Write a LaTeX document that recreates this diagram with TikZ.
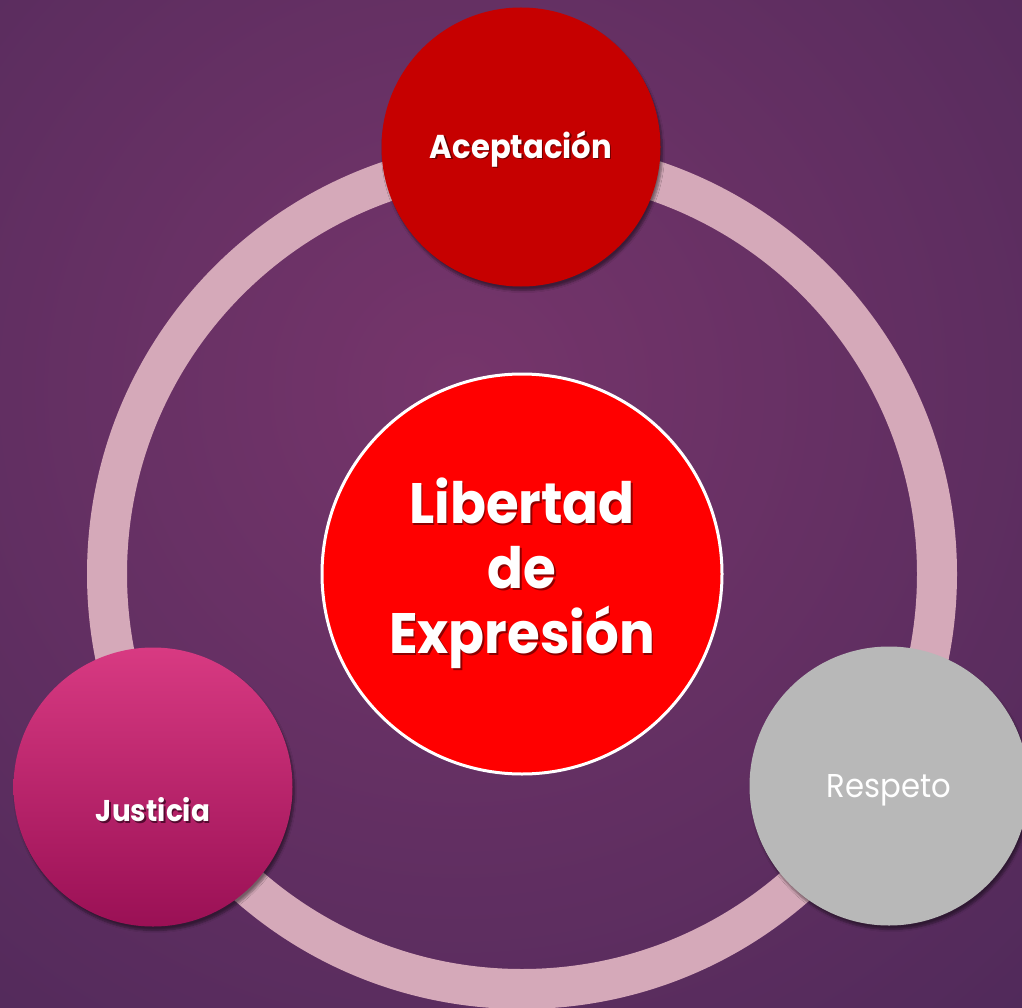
\documentclass[tikz,border=0pt]{standalone}
\usepackage{fontspec}
\setmainfont[FakeStretch=0.93]{Poppins}
\usetikzlibrary{shadows.blur}
\definecolor{bgin}{HTML}{76356B}
\definecolor{bgout}{HTML}{3A2350}
\definecolor{ringc}{HTML}{D5A9B9}
\definecolor{acep}{HTML}{C60000}
\definecolor{justop}{HTML}{D83A82}
\definecolor{jusbot}{HTML}{9A1055}
\definecolor{resp}{HTML}{B8B8B8}
% white text with a small dark copy behind it
\newcommand{\shtxt}[2]{\makebox[0pt][l]{\hspace{1.5pt}\raisebox{-1.5pt}{\textcolor{#1}{#2}}}#2}
% text put with its baseline #1 below the node centre
\newcommand{\lowtxt}[2]{\raisebox{-#1}[0pt][0pt]{#2}}
\begin{document}
\begin{tikzpicture}[x=1pt,y=-1pt,
  sat/.style={circle,minimum size=279pt,inner sep=0pt,text=white,
    blur shadow={shadow xshift=2pt,shadow yshift=-4pt,shadow blur steps=6,shadow opacity=45}},
  core/.style={circle,minimum size=400pt,inner sep=0pt,fill=red,draw=white,line width=3pt,
    text=white,align=center,font=\fontsize{57}{65}\selectfont\bfseries},
  ringline/.style={draw=ringc,line width=40pt}]
\def\R{415pt};
\useasboundingbox (0,0) rectangle (1022,1008);
\begin{scope}
\clip (0,0) rectangle (1022,1008);
\shade[inner color=bgin,outer color=bgout] (460,390) circle (1350pt);
\end{scope}

\node[core] (lib) at (522,574) {\shtxt{red!55!black}{Libertad}\\\shtxt{red!55!black}{de}\\\shtxt{red!55!black}{Expresión}};
\draw[ringline] (lib.center) circle (\R);

\node[sat,fill=acep,font=\fontsize{33}{36}\selectfont\bfseries] (acep) at (521,147) {\lowtxt{11.5pt}{\shtxt{acep!55!black}{Aceptación}}};
\node[sat,top color=justop,bottom color=jusbot,font=\fontsize{30}{36}\selectfont\bfseries] (just) at (153,787) {\lowtxt{34.5pt}{\shtxt{jusbot!55!black}{Justicia}}};
\node[sat,fill=resp,font=\fontsize{33}{36}\selectfont] (resp) at (889,786) {\lowtxt{11pt}{Respeto}};
\end{tikzpicture}
\end{document}
